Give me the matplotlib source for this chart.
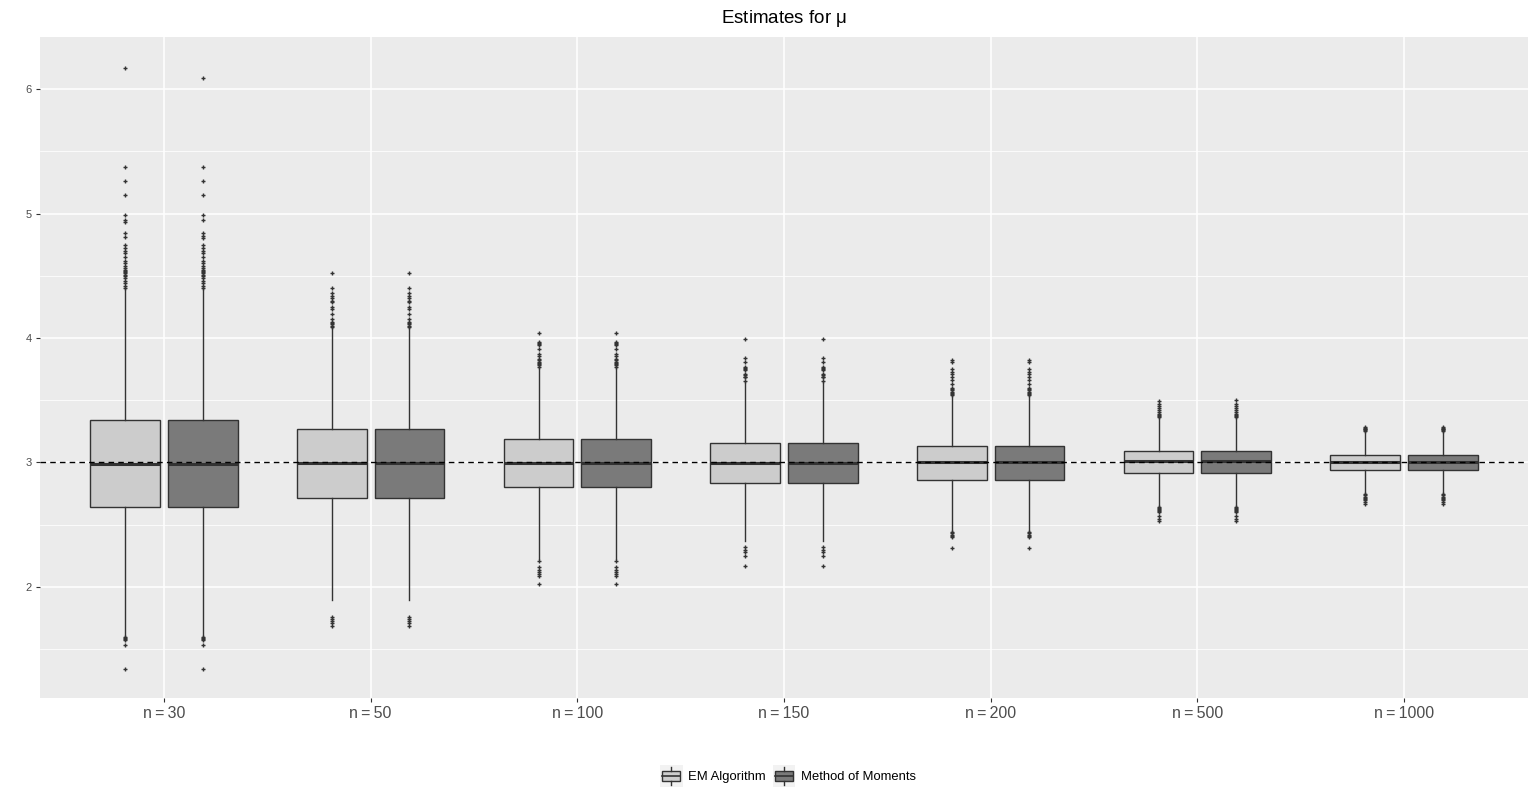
import numpy as np
import matplotlib.pyplot as plt
from matplotlib.patches import Rectangle
from matplotlib.lines import Line2D
from matplotlib.legend_handler import HandlerBase

plt.rcParams['font.family'] = ['Liberation Sans', 'DejaVu Sans']

sizes = ["n\u2009=\u200930", "n\u2009=\u200950", "n\u2009=\u2009100", "n\u2009=\u2009150",
         "n\u2009=\u2009200", "n\u2009=\u2009500", "n\u2009=\u20091000"]
methods = ["EM Algorithm", "Method of Moments"]
fills = ["#CCCCCC", "#7A7A7A"]
true_mu = 3

# EM algorithm
em_q1 = [2.646, 2.716, 2.805, 2.837, 2.861, 2.917, 2.941]
em_med = [2.985, 2.995, 2.995, 2.998, 3.000, 3.008, 3.003]
em_q3 = [3.342, 3.270, 3.190, 3.158, 3.134, 3.094, 3.062]
em_lo = [1.610, 1.894, 2.227, 2.373, 2.450, 2.652, 2.749]
em_hi = [4.390, 4.087, 3.766, 3.645, 3.538, 3.364, 3.250]
em_fliers = [
    [6.17, 5.37, 5.26, 5.15, 4.99, 4.95, 4.93, 4.84, 4.81, 4.75, 4.72, 4.70, 4.68,
     4.65, 4.62, 4.60, 4.58, 4.56, 4.55, 4.54, 4.53, 4.52, 4.51, 4.50, 4.48, 4.46,
     4.44, 4.42, 4.40, 1.60, 1.59, 1.58, 1.57, 1.53, 1.34],
    [4.52, 4.40, 4.36, 4.34, 4.32, 4.30, 4.29, 4.25, 4.23, 4.19, 4.15, 4.13, 4.12,
     4.11, 4.10, 4.09, 1.76, 1.74, 1.73, 1.71, 1.69],
    [4.04, 3.97, 3.96, 3.95, 3.94, 3.91, 3.87, 3.855, 3.83, 3.82, 3.81, 3.80, 3.79,
     3.78, 3.77, 2.21, 2.157, 2.14, 2.12, 2.105, 2.087, 2.02],
    [3.99, 3.84, 3.81, 3.766, 3.76, 3.75, 3.739, 3.71, 3.70, 3.69, 3.685, 3.656,
     2.32, 2.293, 2.277, 2.247, 2.17],
    [3.825, 3.809, 3.747, 3.725, 3.71, 3.685, 3.66, 3.63, 3.60, 3.59, 3.58, 3.57,
     3.56, 3.55, 3.54, 2.44, 2.43, 2.42, 2.41, 2.40, 2.31],
    [3.496, 3.468, 3.455, 3.439, 3.423, 3.404, 3.39, 3.38, 3.37, 3.365,
     2.645, 2.635, 2.625, 2.615, 2.61, 2.60, 2.569, 2.548, 2.529],
    [3.283, 3.275, 3.27, 3.265, 3.26, 3.255, 2.745, 2.735, 2.725, 2.715, 2.705,
     2.696, 2.68, 2.67],
]

# Method of moments
mom_q1 = [2.646, 2.716, 2.805, 2.837, 2.861, 2.917, 2.941]
mom_med = [2.985, 2.995, 2.995, 2.998, 3.000, 3.008, 3.003]
mom_q3 = [3.342, 3.270, 3.190, 3.158, 3.134, 3.094, 3.062]
mom_lo = [1.610, 1.894, 2.227, 2.373, 2.450, 2.652, 2.749]
mom_hi = [4.390, 4.087, 3.766, 3.645, 3.538, 3.364, 3.250]
mom_fliers = [
    [6.09, 5.37, 5.26, 5.15, 4.99, 4.95, 4.84, 4.82, 4.80, 4.75, 4.72, 4.70, 4.68,
     4.65, 4.62, 4.60, 4.58, 4.56, 4.55, 4.54, 4.53, 4.52, 4.51, 4.50, 4.48, 4.46,
     4.44, 4.42, 4.40, 1.60, 1.59, 1.58, 1.57, 1.53, 1.34],
    em_fliers[1],
    em_fliers[2],
    em_fliers[3],
    em_fliers[4],
    [3.50, 3.468, 3.455, 3.439, 3.423, 3.404, 3.39, 3.38, 3.37, 3.365,
     2.645, 2.635, 2.625, 2.615, 2.61, 2.60, 2.569, 2.548, 2.529],
    em_fliers[6],
]

EDGE = "#333333"


def make_stats(q1, med, q3, lo, hi, fl):
    return [dict(q1=a, med=b, q3=c, whislo=d, whishi=e, fliers=f)
            for a, b, c, d, e, f in zip(q1, med, q3, lo, hi, fl)]


class BoxKey(HandlerBase):
    def create_artists(self, legend, orig_handle, xdescent, ydescent,
                       width, height, fontsize, trans):
        x0, y0 = -xdescent, -ydescent
        bg = Rectangle((x0, y0), width, height, facecolor="#F2F2F2",
                       edgecolor="none", transform=trans)
        box = Rectangle((x0 + 0.1 * width, y0 + 0.25 * height), 0.8 * width,
                        0.5 * height, facecolor=orig_handle.get_facecolor(),
                        edgecolor=EDGE, lw=1, transform=trans)
        cx = x0 + width / 2
        w1 = Line2D([cx, cx], [y0 + 0.05 * height, y0 + 0.25 * height],
                    color=EDGE, lw=1, transform=trans)
        w2 = Line2D([cx, cx], [y0 + 0.75 * height, y0 + 0.95 * height],
                    color=EDGE, lw=1, transform=trans)
        md = Line2D([x0 + 0.1 * width, x0 + 0.9 * width],
                    [y0 + 0.5 * height] * 2, color=EDGE, lw=1.2, transform=trans)
        return [bg, box, w1, w2, md]


fig = plt.figure(figsize=(15.36, 8.01), dpi=100)
ax = fig.add_axes([40 / 1536, 103 / 801, 1488 / 1536, 661 / 801])
ax.set_facecolor("#EBEBEB")
for s in ax.spines.values():
    s.set_visible(False)

x = np.arange(len(sizes))
dodge = 0.1875
bw = 0.3375
groups = [
    make_stats(em_q1, em_med, em_q3, em_lo, em_hi, em_fliers),
    make_stats(mom_q1, mom_med, mom_q3, mom_lo, mom_hi, mom_fliers),
]
for k, (st, fc) in enumerate(zip(groups, fills)):
    ax.bxp(st, positions=x + (k * 2 - 1) * dodge, widths=bw, patch_artist=True,
           showcaps=False, manage_ticks=False,
           boxprops=dict(facecolor=fc, edgecolor=EDGE, lw=1),
           medianprops=dict(color=EDGE, lw=2.2),
           whiskerprops=dict(color=EDGE, lw=1),
           flierprops=dict(marker="+", markersize=3.2, markeredgecolor=EDGE,
                           markeredgewidth=1, linestyle="none"),
           zorder=3)

ax.axhline(true_mu, color="black", lw=1, linestyle=(0, (4, 3)), zorder=4)

ax.set_xlim(-0.6, len(sizes) - 0.4)
ax.set_ylim(1.108, 6.418)
ax.set_xticks(x)
ax.set_xticklabels(sizes, fontsize=11.5, color="#4D4D4D")
ax.set_yticks([2, 3, 4, 5, 6])
ax.set_yticklabels(["2", "3", "4", "5", "6"], fontsize=8, color="#4D4D4D")
ax.set_yticks([1.5, 2.5, 3.5, 4.5, 5.5], minor=True)
ax.tick_params(axis="both", which="major", length=3, width=0.8, color="#333333", pad=3)
ax.tick_params(axis="y", which="minor", length=0)
ax.grid(True, which="major", color="white", lw=1.1, zorder=0)
ax.grid(True, which="minor", axis="y", color="white", lw=0.55, zorder=0)
ax.set_axisbelow(True)

ax.set_title(r"Estimates for $\mathregular{\mu}$", fontsize=13.5, pad=10)

handles = [Rectangle((0, 0), 1, 1, facecolor=c) for c in fills]
fig.legend(handles, methods, handler_map={Rectangle: BoxKey()},
           loc="center", bbox_to_anchor=(788 / 1536, 25 / 801), ncol=2,
           frameon=False, fontsize=9.4, handlelength=1.75, handleheight=2.1,
           handletextpad=0.45, columnspacing=0.5)

fig.savefig("out.png", dpi=100)
